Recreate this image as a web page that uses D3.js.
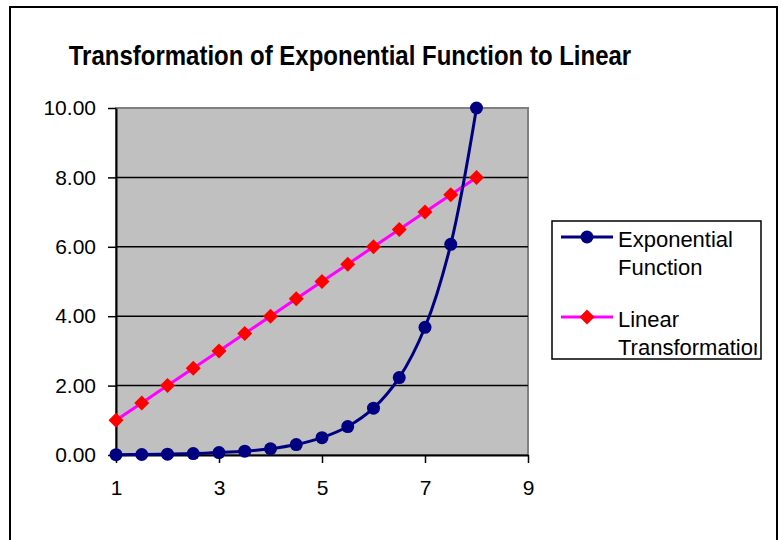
<!DOCTYPE html>
<html>
<head>
<meta charset="utf-8">
<script src="https://cdn.jsdelivr.net/npm/d3@7"></script>
<style>
  body { margin: 0; background: #fff; }
  text { font-family: "Liberation Sans", Arial, sans-serif; }
</style>
</head>
<body>
<div id="chart"></div>
<script>
// Data
var xValues = [1, 1.5, 2, 2.5, 3, 3.5, 4, 4.5, 5, 5.5, 6, 6.5, 7, 7.5, 8];
var expValues = [0.01, 0.015, 0.025, 0.04, 0.07, 0.11, 0.18, 0.30, 0.50, 0.82, 1.35, 2.23, 3.68, 6.07, 10.0];
var linValues = [1, 1.5, 2, 2.5, 3, 3.5, 4, 4.5, 5, 5.5, 6, 6.5, 7, 7.5, 8];
var xTicks = [1, 3, 5, 7, 9];
var yTicks = [0, 2, 4, 6, 8, 10];
var seriesNames = ["Exponential Function", "Linear Transformation"];

var svgWidth = 783;
var svgHeight = 540;

// Plot area
var plot = { left: 116, top: 108, right: 528, bottom: 455 };

var svg = d3.select("#chart")
  .append("svg")
  .attr("width", svgWidth)
  .attr("height", svgHeight);

// Outer chart border
svg.append("rect")
  .attr("x", 10)
  .attr("y", 7)
  .attr("width", 767)
  .attr("height", 560)
  .attr("fill", "#fff")
  .attr("stroke", "#000")
  .attr("stroke-width", 2);

// Title (slightly stretched vertically like the original)
svg.append("text")
  .attr("transform", "translate(350, 65) scale(1, 1.12)")
  .attr("text-anchor", "middle")
  .attr("font-size", 24)
  .attr("font-weight", "bold")
  .text("Transformation of Exponential Function to Linear");

var xScale = d3.scaleLinear()
  .domain([1, 9])
  .range([plot.left, plot.right]);

var yScale = d3.scaleLinear()
  .domain([0, 10])
  .range([plot.bottom, plot.top]);

// Gray plot background
svg.append("rect")
  .attr("x", plot.left)
  .attr("y", plot.top)
  .attr("width", plot.right - plot.left)
  .attr("height", plot.bottom - plot.top)
  .attr("fill", "#c0c0c0")
  .attr("stroke", "#808080")
  .attr("stroke-width", 2);

// Gridlines
svg.append("g")
  .selectAll("line")
  .data(yTicks.filter(d => d > 0 && d < 10))
  .enter()
  .append("line")
  .attr("x1", plot.left)
  .attr("x2", plot.right)
  .attr("y1", d => yScale(d))
  .attr("y2", d => yScale(d))
  .attr("stroke", "#000")
  .attr("stroke-width", 1.5);

// Axes
var bottomAxis = d3.axisBottom(xScale)
  .tickValues(xTicks)
  .tickSizeInner(8)
  .tickSizeOuter(0)
  .tickPadding(17)
  .tickFormat(d3.format("d"));

var leftAxis = d3.axisLeft(yScale)
  .tickValues(yTicks)
  .tickSizeInner(8)
  .tickSizeOuter(0)
  .tickPadding(12)
  .tickFormat(d3.format(".2f"));

var xAxis = svg.append("g")
  .attr("transform", `translate(0, ${plot.bottom})`)
  .call(bottomAxis);

var yAxis = svg.append("g")
  .attr("transform", `translate(${plot.left}, 0)`)
  .call(leftAxis);

[xAxis, yAxis].forEach(function(ax) {
  ax.select(".domain").attr("stroke", "#000").attr("stroke-width", 2);
  ax.selectAll(".tick line").attr("stroke", "#000").attr("stroke-width", 1.5);
  ax.selectAll(".tick text")
    .attr("fill", "#000")
    .attr("font-size", 21)
    .attr("font-family", "'Liberation Sans', Arial, sans-serif");
});

var expData = xValues.map((x, i) => ({ x: x, y: expValues[i] }));
var linData = xValues.map((x, i) => ({ x: x, y: linValues[i] }));

// Linear transformation series
svg.append("path")
  .datum(linData)
  .attr("fill", "none")
  .attr("stroke", "#ff00ff")
  .attr("stroke-width", 3)
  .attr("d", d3.line().x(d => xScale(d.x)).y(d => yScale(d.y)));

var diamond = "M0,-7.5L7.5,0L0,7.5L-7.5,0Z";

svg.append("g")
  .selectAll("path")
  .data(linData)
  .enter()
  .append("path")
  .attr("transform", d => `translate(${xScale(d.x)}, ${yScale(d.y)})`)
  .attr("d", diamond)
  .attr("fill", "#ff0000");

// Exponential series (smoothed)
svg.append("path")
  .datum(expData)
  .attr("fill", "none")
  .attr("stroke", "#000080")
  .attr("stroke-width", 3)
  .attr("d", d3.line().curve(d3.curveCatmullRom.alpha(0.5)).x(d => xScale(d.x)).y(d => yScale(d.y)));

svg.append("g")
  .selectAll("circle")
  .data(expData)
  .enter()
  .append("circle")
  .attr("cx", d => xScale(d.x))
  .attr("cy", d => yScale(d.y))
  .attr("r", 6.5)
  .attr("fill", "#000080");

// Legend
var legend = svg.append("g");

legend.append("rect")
  .attr("x", 552)
  .attr("y", 221)
  .attr("width", 209)
  .attr("height", 138)
  .attr("fill", "#fff")
  .attr("stroke", "#000")
  .attr("stroke-width", 1.5);

svg.append("clipPath")
  .attr("id", "legendClip")
  .append("rect")
  .attr("x", 553)
  .attr("y", 222)
  .attr("width", 204)
  .attr("height", 136);

var legendItems = [
  { name: seriesNames[0], line: "#000080", y: 237, lines: ["Exponential", "Function"] },
  { name: seriesNames[1], line: "#ff00ff", y: 317, lines: ["Linear", "Transformation"] }
];

legendItems.forEach(function(item, i) {
  legend.append("line")
    .attr("x1", 561)
    .attr("x2", 613)
    .attr("y1", item.y)
    .attr("y2", item.y)
    .attr("stroke", item.line)
    .attr("stroke-width", 3);

  if (i === 0) {
    legend.append("circle")
      .attr("cx", 587)
      .attr("cy", item.y)
      .attr("r", 6.5)
      .attr("fill", "#000080");
  } else {
    legend.append("path")
      .attr("transform", `translate(587, ${item.y})`)
      .attr("d", diamond)
      .attr("fill", "#ff0000");
  }

  var t = legend.append("text")
    .attr("x", 618)
    .attr("y", item.y + 10)
    .attr("font-size", 22)
    .attr("clip-path", "url(#legendClip)");
  item.lines.forEach(function(ln, j) {
    t.append("tspan")
      .attr("x", 618)
      .attr("dy", j === 0 ? 0 : 28)
      .text(ln);
  });
});
</script>
</body>
</html>
